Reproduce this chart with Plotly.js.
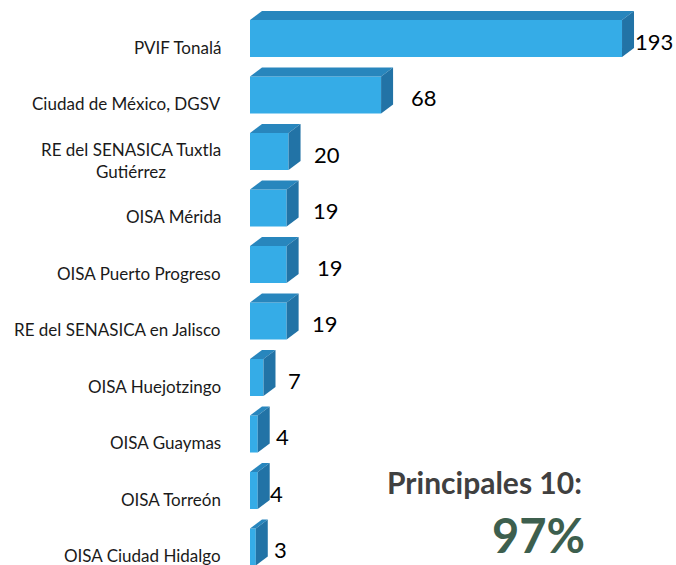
<!DOCTYPE html>
<html>
<head>
<meta charset="utf-8">
<script src="https://cdn.plot.ly/plotly-3.0.1.min.js"></script>
<style>html,body{margin:0;padding:0;background:#fff;}#chart{width:676px;height:565px;}</style>
</head>
<body>
<div id="chart"></div>
<script>
// ---- data ----
const categories = [
  "PVIF Tonalá",
  "Ciudad de México, DGSV",
  "RE del SENASICA Tuxtla<br>Gutiérrez",
  "OISA Mérida",
  "OISA Puerto Progreso",
  "RE del SENASICA en Jalisco",
  "OISA Huejotzingo",
  "OISA Guaymas",
  "OISA Torreón",
  "OISA Ciudad Hidalgo"
];
const values = [193, 68, 20, 19, 19, 19, 7, 4, 4, 3];
const summaryTitle = "Principales 10:";
const summaryValue = "97%";

// ---- layout helpers (positions / styles) ----
const labelShift = [11, 28, 23, 24, 28, 23, 23, 16, 10, 16]; // px gap after bar end
const W = 676, H = 565, L = 250;
const XMAX = 221;                 // x range -> ~1.93 px per unit
const pxPerX = (W - L) / XMAX;
const Y0 = -0.832, Y1 = 9.168;    // category rows, reversed
const pxPerY = H / (Y1 - Y0);
const DX = 12 / pxPerX;           // depth in x units
const DY = 9 / pxPerY;            // depth in category units
const FT = -0.478, FB = 0.177;    // front face top / bottom offset from row
const cFront = "#35ACE7", cTop = "#2886BD", cSide = "#2273A6";
const FONT = "Lato, 'Open Sans', sans-serif";

const idx = values.map((v, i) => i);
const traces = [];

traces.push({
  type: "bar", orientation: "h",
  x: values, y: idx, base: 0,
  width: FB - FT, offset: FT,
  marker: {color: cFront, line: {width: 0}},
  hoverinfo: "skip"
});

values.forEach((v, k) => {
  const t = k + FT, b = k + FB;
  traces.push({
    type: "scatter", mode: "lines", fill: "toself",
    x: [0, v, v + DX, DX, 0],
    y: [t, t, t - DY, t - DY, t],
    line: {width: 0, color: cTop}, fillcolor: cTop, hoverinfo: "skip"
  });
  traces.push({
    type: "scatter", mode: "lines", fill: "toself",
    x: [v, v + DX, v + DX, v, v],
    y: [t, t - DY, b - DY, b, t],
    line: {width: 0, color: cSide}, fillcolor: cSide, hoverinfo: "skip"
  });
});

const annotations = [];
categories.forEach((c, k) => {
  annotations.push({
    xref: "paper", yref: "y", x: (223 - L) / (W - L), y: k,
    xanchor: "right", yanchor: "middle", align: "center",
    text: c, showarrow: false,
    font: {family: FONT, size: 17, color: "#1a1a1a"}
  });
});
values.forEach((v, k) => {
  annotations.push({
    xref: "x", yref: "y", x: v, y: k,
    xanchor: "left", yanchor: "middle",
    xshift: labelShift[k], yshift: 6,
    text: String(v), showarrow: false,
    font: {family: FONT, size: 22, color: "#000"}
  });
});
annotations.push({
  xref: "paper", yref: "paper",
  x: (484.5 - L) / (W - L), y: 1 - 482 / H,
  xanchor: "center", yanchor: "middle",
  text: "<b>" + summaryTitle + "</b>", showarrow: false,
  font: {family: FONT, size: 30, color: "#404040"}
});
annotations.push({
  xref: "paper", yref: "paper",
  x: (538 - L) / (W - L), y: 1 - 535 / H,
  xanchor: "center", yanchor: "middle",
  text: "<b>" + summaryValue + "</b>", showarrow: false,
  font: {family: FONT, size: 47, color: "#3D5F4E"}
});

const layout = {
  width: W, height: H,
  margin: {l: L, r: 0, t: 0, b: 0, pad: 0},
  paper_bgcolor: "#fff", plot_bgcolor: "#fff",
  showlegend: false,
  xaxis: {range: [0, XMAX], visible: false, fixedrange: true},
  yaxis: {range: [Y1, Y0], visible: false, fixedrange: true},
  annotations: annotations
};

Plotly.newPlot("chart", traces, layout, {displayModeBar: false, staticPlot: true});
</script>
</body>
</html>
